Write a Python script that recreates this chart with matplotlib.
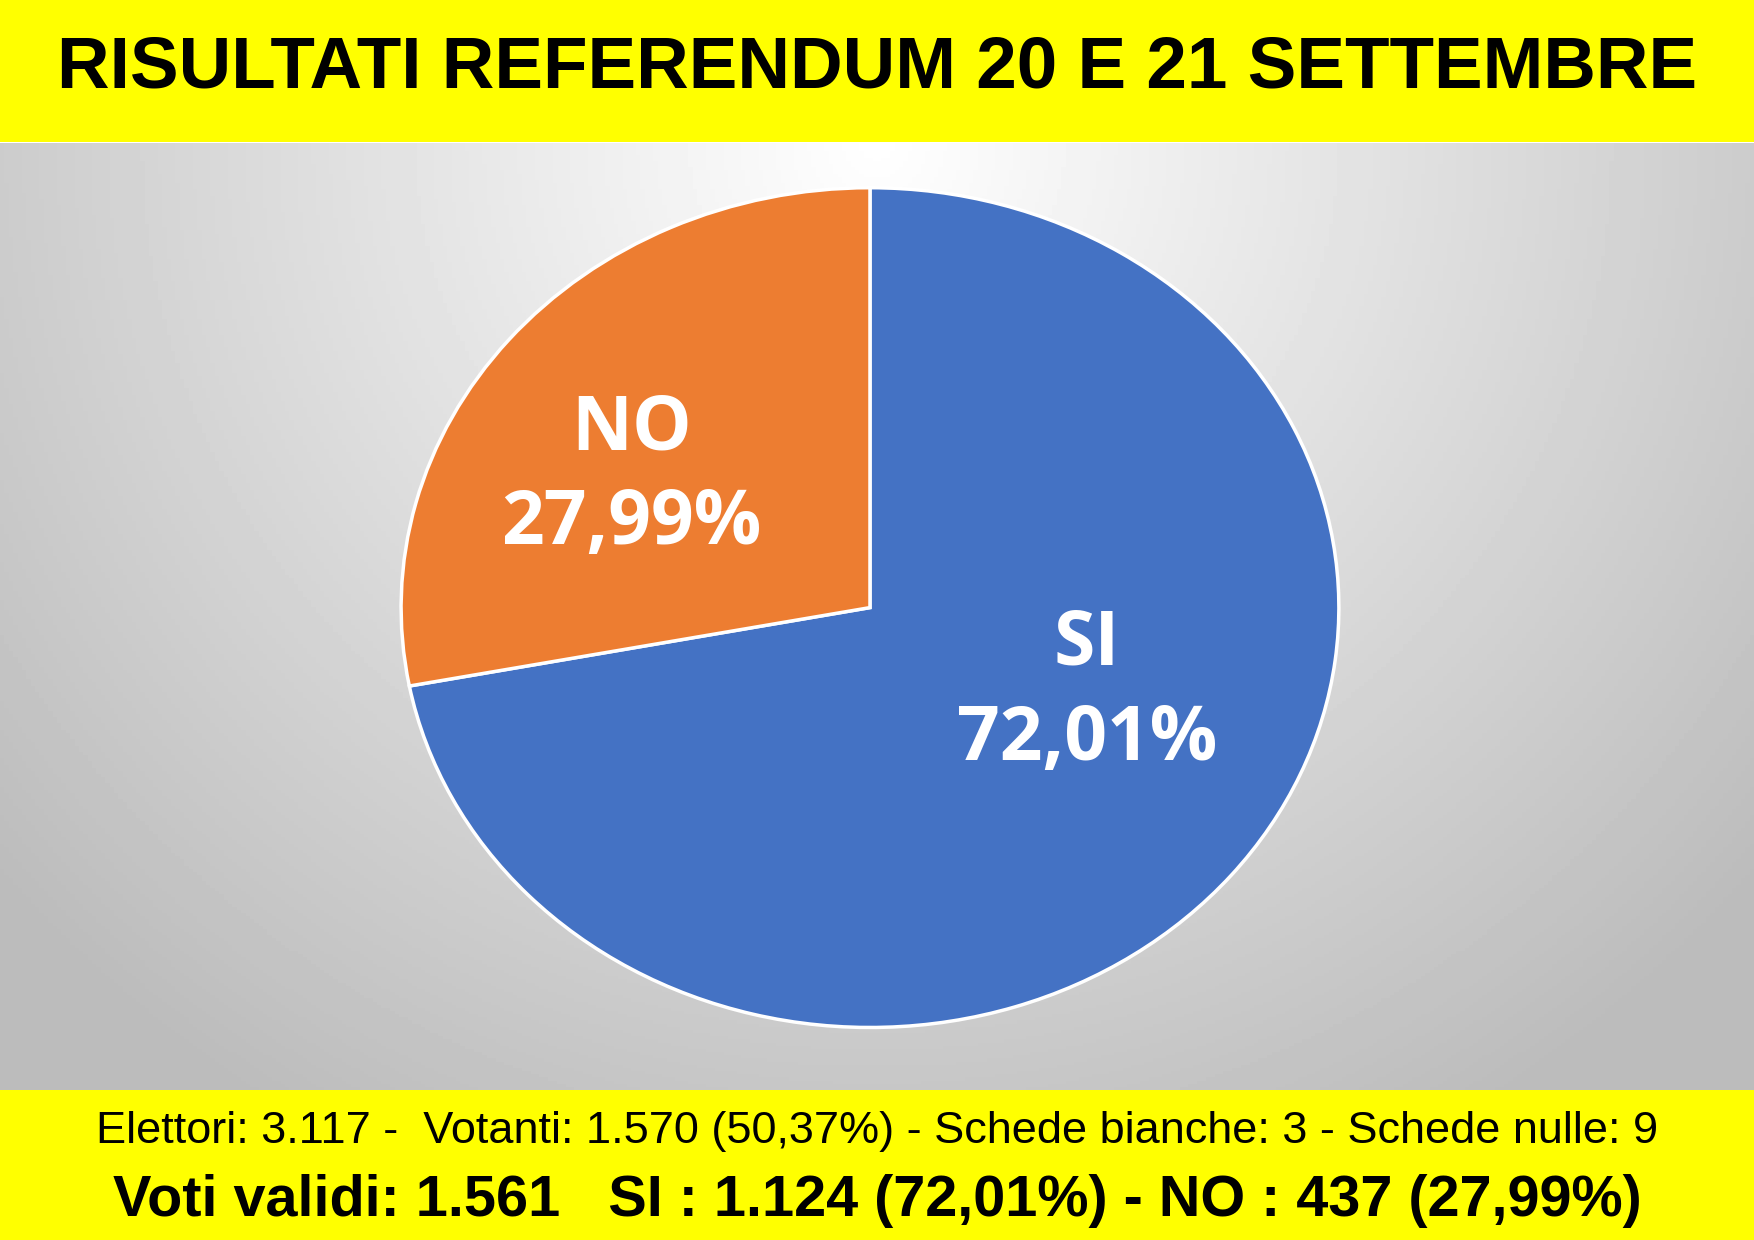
import matplotlib
matplotlib.use("Agg")
import matplotlib.pyplot as plt
import numpy as np

labels = ["SI", "NO"]
shares = [72.01, 27.99]
pct_text = ["72,01%", "27,99%"]
colors = ["#4472C4", "#ED7D31"]

title = "RISULTATI REFERENDUM 20 E 21 SETTEMBRE"
line1 = "Elettori: 3.117 -  Votanti: 1.570 (50,37%) - Schede bianche: 3 - Schede nulle: 9"
line2 = "Voti validi: 1.561   SI : 1.124 (72,01%) - NO : 437 (27,99%)"

fig = plt.figure(figsize=(17.54, 12.40), dpi=100)

# gray gradient background
bg = fig.add_axes([0, 0.121, 1, 0.764])
yy, xx = np.mgrid[0:1:300j, -1:1:400j]
r = np.sqrt((xx / 1.1) ** 2 + (yy * 1.0) ** 2)
img = 1.0 - 0.22 * np.clip(r, 0, 1.2)
bg.imshow(img, cmap="gray", vmin=0, vmax=1, aspect="auto", extent=[0, 1, 0, 1])
bg.set_axis_off()

# yellow bands
top = fig.add_axes([0, 0.8855, 1, 0.1145])
top.set_facecolor("#FFFF00")
top.set_xticks([]); top.set_yticks([])
for s in top.spines.values():
    s.set_visible(False)
top.text(0.5, 0.52, title, ha="center", va="center", fontsize=52.5,
         fontweight="bold", family="Liberation Sans")

bot = fig.add_axes([0, 0, 1, 0.121])
bot.set_facecolor("#FFFF00")
bot.set_xticks([]); bot.set_yticks([])
for s in bot.spines.values():
    s.set_visible(False)
bot.text(0.5, 0.72, line1, ha="center", va="center", fontsize=32.5, family="Liberation Sans")
bot.text(0.5, 0.26, line2, ha="center", va="center", fontsize=41.5,
         fontweight="bold", family="Liberation Sans")

# pie (elliptical)
ax = fig.add_axes([0.226, 0.168, 0.54, 0.684])
wedges, _ = ax.pie(shares, colors=colors, startangle=90, counterclock=False,
                   wedgeprops=dict(edgecolor="white", linewidth=2.5))
ax.set_aspect("auto")
ax.set_xlim(-1.01, 1.01); ax.set_ylim(-1.01, 1.01)
label_r = {"SI": 0.6, "NO": 0.66}
label_dy = {"SI": 0.18, "NO": -0.11}
for w, lab, pt in zip(wedges, labels, pct_text):
    ang = np.deg2rad((w.theta1 + w.theta2) / 2)
    rr = label_r[lab]
    ax.text(rr * np.cos(ang), rr * np.sin(ang) + label_dy[lab], lab + "\n" + pt,
            ha="center", va="center", color="white", fontsize=54, fontweight="bold",
            family="Open Sans", linespacing=1.35)

fig.savefig("out.png", dpi=100)
